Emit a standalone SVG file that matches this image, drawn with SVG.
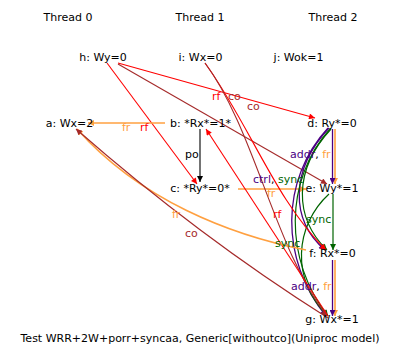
<svg xmlns="http://www.w3.org/2000/svg" width="402" height="361" viewBox="0 0 402 361">
<style>
text{font-family:"DejaVu Sans","Liberation Sans",sans-serif;font-size:11px;fill:#000}
.n{text-anchor:middle}
.e{fill:none;stroke-width:1.1}
.rf{stroke:#ff0000}.co{stroke:#a52a2a}.fr{stroke:#ffa040;stroke-width:1.6}.po{stroke:#000}.dp{stroke:#4b0082;stroke-width:1.3}.sy{stroke:#006400;stroke-width:1.2}
.trf{fill:#ff0000}.tco{fill:#a52a2a}.tfr{fill:#ffa040}.tdp{fill:#4b0082}.tsy{fill:#006400}
</style>
<defs>
<marker id="mrf" viewBox="0 0 10 10" refX="10" refY="5" markerWidth="9" markerHeight="6" markerUnits="userSpaceOnUse" orient="auto"><path d="M0,0L10,5L0,10z" fill="#ff0000"/></marker>
<marker id="mco" viewBox="0 0 10 10" refX="10" refY="5" markerWidth="9" markerHeight="6" markerUnits="userSpaceOnUse" orient="auto"><path d="M0,0L10,5L0,10z" fill="#a52a2a"/></marker>
<marker id="mfr" viewBox="0 0 10 10" refX="10" refY="5" markerWidth="9" markerHeight="6" markerUnits="userSpaceOnUse" orient="auto"><path d="M0,0L10,5L0,10z" fill="#ffa040"/></marker>
<marker id="mpo" viewBox="0 0 10 10" refX="10" refY="5" markerWidth="9" markerHeight="6" markerUnits="userSpaceOnUse" orient="auto"><path d="M0,0L10,5L0,10z" fill="#000"/></marker>
<marker id="mdp" viewBox="0 0 10 10" refX="10" refY="5" markerWidth="9" markerHeight="6" markerUnits="userSpaceOnUse" orient="auto"><path d="M0,0L10,5L0,10z" fill="#4b0082"/></marker>
<marker id="msy" viewBox="0 0 10 10" refX="10" refY="5" markerWidth="9" markerHeight="6" markerUnits="userSpaceOnUse" orient="auto"><path d="M0,0L10,5L0,10z" fill="#006400"/></marker>
</defs>
<rect width="402" height="361" fill="#fff"/>
<g id="threads">
<text class="n" x="68" y="21">Thread 0</text>
<text class="n" x="200" y="21">Thread 1</text>
<text class="n" x="333" y="21">Thread 2</text>
</g>
<g id="connectors">
<path class="e rf" d="M118,63L315,118" marker-end="url(#mrf)"/>
<path class="e co" d="M118,64L327,184" marker-end="url(#mco)"/>
<path class="e rf" d="M107,63L197,184" marker-end="url(#mrf)"/>
<path class="e fr" d="M165,123L88,123" marker-end="url(#mfr)"/>
<path class="e po" d="M200,129L200,182" marker-end="url(#mpo)"/>
<path class="e fr" d="M238,189L306,189" marker-end="url(#mfr)"/>
<path class="e fr" d="M335,129L335,184" marker-end="url(#mfr)"/>
<path class="e dp" d="M332.5,129L332.5,184" marker-end="url(#mdp)"/>
<path class="e sy" d="M333,194L333,250" marker-end="url(#msy)"/>
<path class="e fr" d="M335,260L335,316" marker-end="url(#mfr)"/>
<path class="e dp" d="M332.5,260L332.5,316" marker-end="url(#mdp)"/>
<path class="e dp" d="M329,128C290,170 290,220 325,250" marker-end="url(#mdp)"/>
<path class="e sy" d="M331,129C293,170 294,218 327,250" marker-end="url(#msy)"/>
<path class="e dp" d="M328,128C280,180 280,260 326,316" marker-end="url(#mdp)"/>
<path class="e sy" d="M330,129C284,180 284,260 328,316" marker-end="url(#msy)"/>
<path class="e sy" d="M329,194C295,225 290,280 328,316" marker-end="url(#msy)"/>
<path class="e rf" d="M205,63C250,125 275,200 326,250" marker-end="url(#mrf)"/>
<path class="e co" d="M205,63C255,130 275,250 327,316" marker-end="url(#mco)"/>
<path class="e rf" d="M328,316L206,129" marker-end="url(#mrf)"/>
<path class="e fr" d="M306,250C230,235 140,200 77,129" marker-end="url(#mfr)"/>
<path class="e co" d="M328,318Q198,236 76,129" marker-end="url(#mco)"/>
<g id="labels">
<text class="trf" x="212" y="100">rf</text>
<text class="tco" x="228" y="100">co</text>
<text class="tco" x="247" y="110">co</text>
<text class="tfr" x="122" y="131">fr</text>
<text class="trf" x="140" y="131">rf</text>
<text x="185" y="158">po</text>
<text class="tfr" x="172" y="218">fr</text>
<text class="tco" x="185" y="237">co</text>
<text x="253" y="183"><tspan class="tdp">ctrl</tspan>, <tspan class="tsy">sync</tspan></text>
<text class="tfr" x="267" y="197">fr</text>
<text x="290" y="158"><tspan class="tdp">addr</tspan>, <tspan class="tfr">fr</tspan></text>
<text class="tsy" x="306" y="223">sync</text>
<text class="trf" x="273" y="218">rf</text>
<text class="tsy" x="275" y="247">sync</text>
<text x="291" y="290"><tspan class="tdp">addr</tspan>, <tspan class="tfr">fr</tspan></text>
</g>
</g>
<g id="h"><text class="n" x="103" y="61">h: Wy=0</text></g>
<g id="i"><text class="n" x="200.5" y="61">i: Wx=0</text></g>
<g id="j"><text class="n" x="298.5" y="61">j: Wok=1</text></g>
<g id="a"><text class="n" x="69.5" y="127">a: Wx=2</text></g>
<g id="b"><text class="n" x="200.5" y="127">b: *Rx*=1*</text></g>
<g id="d"><text class="n" x="332" y="127">d: Ry*=0</text></g>
<g id="c"><text class="n" x="200" y="192">c: *Ry*=0*</text></g>
<g id="e"><text class="n" x="332" y="192">e: Wy*=1</text></g>
<g id="f"><text class="n" x="332.5" y="257">f: Rx*=0</text></g>
<g id="g"><text class="n" x="332" y="323">g: Wx*=1</text></g>
<g id="title"><text class="n" x="200" y="342">Test WRR+2W+porr+syncaa, Generic[withoutco](Uniproc model)</text></g>
</svg>
